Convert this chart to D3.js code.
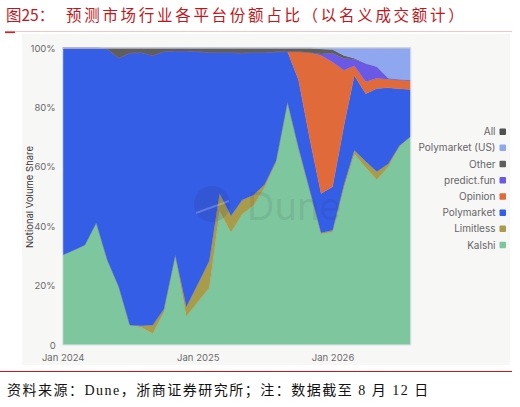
<!DOCTYPE html>
<html>
<head>
<meta charset="utf-8">
<script src="https://cdn.jsdelivr.net/npm/d3@7"></script>
<style>
  html, body { margin: 0; padding: 0; background: #ffffff; }
  svg { display: block; }
</style>
</head>
<body>
<svg id="chart" width="520" height="407"></svg>
<script>
// ---------- data (monthly notional volume share, %) ----------
const months = ["2024-01","2024-02","2024-03","2024-04","2024-05","2024-06","2024-07","2024-08",
  "2024-09","2024-10","2024-11","2024-12","2025-01","2025-02","2025-03","2025-04",
  "2025-05","2025-06","2025-07","2025-08","2025-09","2025-10","2025-11","2025-12",
  "2026-01","2026-02","2026-03","2026-04","2026-05","2026-06","2026-07","2026-08"];
const kalshi       = [30.3,32,33.7,41.2,28.6,19.6,6.7,6,3.9,11,30,9.7,14.5,19.3,45,38,44,47,53,61.5,81.4,66,51.5,37.6,38.1,53,64.5,59.5,55.6,60,66.8,70.1];
const limitless    = [0,0,0,0,0,0,0,0.5,2.8,1,0.3,3.2,6,9,6,5.5,4.8,3.5,1,0.5,0.4,0.4,0.4,0.4,0.5,1,1.3,2,2.8,1,0.3,0.2];
const polymarket   = [69.7,68,66.3,58.8,71.1,77,91.6,92,90.8,86.8,68.7,86.1,78.3,70.2,47.5,55,49.5,48,44.5,36.7,17,22.8,17.1,13.3,14.7,20,25.2,22.7,28,25.6,19.2,15.7];
const opinion      = [0,0,0,0,0,0,0,0,0,0,0,0,0,0,0,0,0,0,0,0,0,9.6,29.5,46.7,42,18.5,3.3,4,3.4,2.9,2.9,3];
const predictFun   = [0,0,0,0,0,0,0,0,0,0,0,0,0,0,0,0,0,0,0,0,0,0,0,0.5,2.9,4,2.2,6.1,3.9,0.3,0.2,0.2];
const other        = [0,0,0,0,0.3,3.4,1.7,1.5,2.5,1.2,1,1,1.2,1.5,1.5,1.5,1.7,1.5,1.5,1.3,1.2,1.2,1.5,1.7,1.3,1,0.3,0,0,0,0,0];
const polymarketUS = [0,0,0,0,0,0,0,0,0,0,0,0,0,0,0,0,0,0,0,0,0,0,0,0.3,0.5,2.5,3.5,5.2,6.3,10.2,10.6,10.8];
const all          = [0,0,0,0,0,0,0,0,0,0,0,0,0,0,0,0,0,0,0,0,0,0,0,0,0,0,0,0,0,0,0,0];

const seriesNames  = ["Kalshi","Limitless","Polymarket","Opinion","predict.fun","Other","Polymarket (US)","All"];
const seriesValues = [kalshi, limitless, polymarket, opinion, predictFun, other, polymarketUS, all];
const seriesColors = ["#7ec69e","#a89c4b","#355ee6","#e06a3a","#6a59e6","#5e5e5e","#8fa7ef","#4f4f4f"];
const legendOrder  = ["All","Polymarket (US)","Other","predict.fun","Opinion","Polymarket","Limitless","Kalshi"];

const yTicks = [0, 0.2, 0.4, 0.6, 0.8, 1.0];
const yTickLabels = ["0","20%","40%","60%","80%","100%"];
const xTickDates = ["2024-01","2025-01","2026-01"];
const xTickLabels = ["Jan 2024","Jan 2025","Jan 2026"];

const titleText  = "图25：";
const titleText2 = "预测市场行业各平台份额占比（以名义成交额计）";
const sourceText = "资料来源：Dune，浙商证券研究所；注：数据截至 8 月 12 日";

// ---------- build table ----------
const parse = d3.utcParse("%Y-%m");
const table = months.map((m, i) => {
  const row = { date: parse(m) };
  seriesNames.forEach((n, j) => row[n] = seriesValues[j][i]);
  return row;
});

const svg = d3.select("#chart");

// panel background
svg.append("rect").attr("x", 22).attr("y", 34).attr("width", 488).attr("height", 331).attr("fill", "#f7f7f6");

// title
const title = svg.append("text").attr("x", 6).attr("y", 21)
  .attr("font-family", "'Noto Sans CJK SC', sans-serif").attr("font-size", 15.5)
  .attr("fill", "#c0161c");
title.append("tspan").text(titleText);
title.append("tspan").attr("x", 66).attr("letter-spacing", 2.7).text(titleText2);

// title rule
svg.append("line").attr("x1", 5).attr("x2", 512).attr("y1", 31.5).attr("y2", 31.5)
  .attr("stroke", "#ebb9b9").attr("stroke-width", 0.8);
svg.append("line").attr("x1", 5).attr("x2", 15).attr("y1", 32.3).attr("y2", 32.3)
  .attr("stroke", "#d42020").attr("stroke-width", 1.6);

// footer rule + source
svg.append("line").attr("x1", 0).attr("x2", 512).attr("y1", 371.5).attr("y2", 371.5)
  .attr("stroke", "#c8161e").attr("stroke-width", 1.2);
svg.append("text").attr("x", 7).attr("y", 395)
  .attr("font-family", "'Liberation Serif', 'Noto Sans CJK SC', serif").attr("font-size", 14)
  .attr("letter-spacing", 1.5)
  .attr("fill", "#111").text(sourceText);

// ---------- scales ----------
const plot = { left: 62.7, right: 410.8, top: 48, bottom: 345 };
const x = d3.scaleUtc().domain(d3.extent(table, d => d.date)).range([plot.left, plot.right]);
const y = d3.scaleLinear().domain([0, 1]).range([plot.bottom, plot.top]);

const stack = d3.stack().keys(seriesNames).offset(d3.stackOffsetExpand);
const layers = stack(table);

const area = d3.area()
  .x(d => x(d.data.date))
  .y0(d => y(d[0]))
  .y1(d => y(d[1]));

svg.append("g").selectAll("path").data(layers).join("path")
  .attr("d", area)
  .attr("fill", (d, i) => seriesColors[i])
  .attr("stroke", (d, i) => seriesColors[i])
  .attr("stroke-width", 0.3);

// plot border
svg.append("rect").attr("x", plot.left).attr("y", plot.top)
  .attr("width", plot.right - plot.left).attr("height", plot.bottom - plot.top)
  .attr("fill", "none").attr("stroke", "#e6e8f0").attr("stroke-width", 1);

// watermark
const wm = svg.append("g");
wm.append("circle").attr("cx", 212).attr("cy", 204).attr("r", 18).attr("fill", "rgba(35,35,80,0.12)");
wm.append("line").attr("x1", 196).attr("y1", 213).attr("x2", 229).attr("y2", 201)
  .attr("stroke", "rgba(255,255,255,0.22)").attr("stroke-width", 2);
wm.append("text").attr("x", 247).attr("y", 220)
  .attr("font-family", "Inter, 'Open Sans', sans-serif").attr("font-size", 38)
  .attr("fill", "rgba(50,50,60,0.11)").text("Dune");

// ---------- axes ----------
const yAxis = d3.axisLeft(y).tickValues(yTicks).tickFormat((d, i) => yTickLabels[i]).tickSize(0).tickPadding(7);
const gy = svg.append("g").attr("transform", `translate(${plot.left},0)`).call(yAxis);
gy.select(".domain").remove();
gy.selectAll("text").attr("font-family", "Inter, 'Open Sans', sans-serif").attr("font-size", 9.5).attr("fill", "#6a6a6a");

const xAxis = d3.axisBottom(x).tickValues(xTickDates.map(parse)).tickFormat((d, i) => xTickLabels[i]).tickSize(0).tickPadding(9);
const gx = svg.append("g").attr("transform", `translate(0,${plot.bottom})`).call(xAxis);
gx.select(".domain").remove();
gx.selectAll("text").attr("font-family", "Inter, 'Open Sans', sans-serif").attr("font-size", 9.5).attr("fill", "#6a6a6a");

svg.append("text").attr("transform", "translate(33,197) rotate(-90)")
  .attr("text-anchor", "middle").attr("font-family", "Inter, 'Open Sans', sans-serif")
  .attr("font-size", 9.5).attr("fill", "#333").text("Notional Volume Share");

// ---------- legend ----------
const lg = svg.append("g").selectAll("g").data(legendOrder).join("g")
  .attr("transform", (d, i) => `translate(0,${131.7 + i * 16.2})`);
lg.append("rect").attr("x", 499.5).attr("y", -3.3).attr("width", 6.5).attr("height", 6.5).attr("rx", 1)
  .attr("fill", d => seriesColors[seriesNames.indexOf(d)]);
lg.append("text").attr("x", 495.5).attr("y", 0).attr("dy", "0.35em").attr("text-anchor", "end")
  .attr("font-family", "Inter, 'Open Sans', sans-serif").attr("font-size", 10).attr("fill", "#666")
  .text(d => d);
</script>
</body>
</html>
